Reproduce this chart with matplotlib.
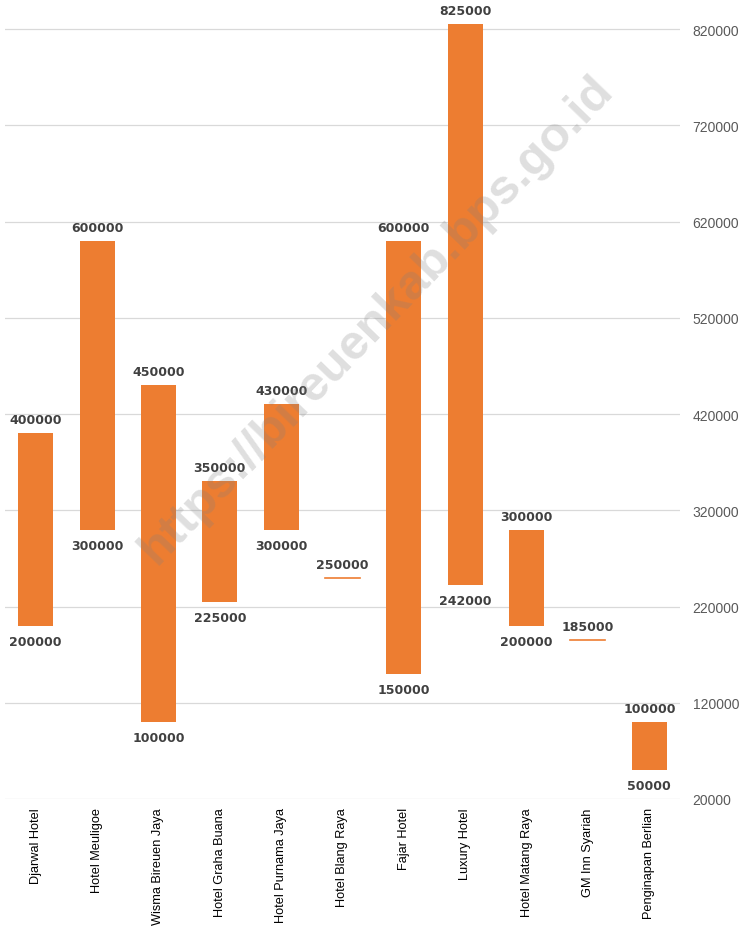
import matplotlib
matplotlib.use("Agg")
import matplotlib.pyplot as plt
import numpy as np

categories = ["Djarwal Hotel", "Hotel Meuligoe", "Wisma Bireuen Jaya", "Hotel Graha Buana",
              "Hotel Purnama Jaya", "Hotel Blang Raya", "Fajar Hotel", "Luxury Hotel",
              "Hotel Matang Raya", "GM Inn Syariah", "Penginapan Berlian"]
min_price = [200000, 300000, 100000, 225000, 300000, 250000, 150000, 242000, 200000, 185000, 50000]
max_price = [400000, 600000, 450000, 350000, 430000, 250000, 600000, 825000, 300000, 185000, 100000]
yticks = [20000, 120000, 220000, 320000, 420000, 520000, 620000, 720000, 820000]

W, H = 745, 928
fig = plt.figure(figsize=(W / 100, H / 100), dpi=100)
ax = fig.add_axes([5 / W, 1 - 800 / H, 675 / W, 800 / H])

x = np.arange(len(categories))
bar_color = "#ED7D31"
for xi, lo, hi in zip(x, min_price, max_price):
    if hi > lo:
        ax.bar(xi, hi - lo, bottom=lo, width=0.57, color=bar_color, zorder=3)
    else:
        ax.plot([xi - 0.285, xi + 0.285], [lo, lo], color=bar_color, lw=1.2, zorder=3)
    ax.annotate(str(hi), (xi, hi), xytext=(0, 5), textcoords="offset points",
                ha="center", va="bottom", fontsize=9, fontweight="bold",
                color="#404040", family="DejaVu Sans", zorder=4)
    if hi > lo:
        ax.annotate(str(lo), (xi, lo), xytext=(0, -6.5), textcoords="offset points",
                    ha="center", va="top", fontsize=9, fontweight="bold",
                    color="#404040", family="DejaVu Sans", zorder=4)

ax.set_xlim(-0.5, len(categories) - 0.5)
ax.set_ylim(20000, 851169)
ax.set_yticks(yticks)
ax.yaxis.tick_right()
ax.tick_params(axis="y", length=0, pad=9, labelsize=10, labelcolor="#595959")
for lab in ax.get_yticklabels():
    lab.set_family("Liberation Sans")
ax.set_xticks(x)
ax.set_xticklabels(categories, rotation=90, fontsize=9.2, family="Liberation Sans", color="#000000")
ax.tick_params(axis="x", length=0, pad=6)
ax.grid(axis="y", color="#d9d9d9", lw=0.9, zorder=0)
for s in ax.spines.values():
    s.set_visible(False)

fig.text(0.505, 0.655, "https://bireuenkab.bps.go.id", fontsize=35.5, fontweight="bold",
         color="#808080", alpha=0.25, rotation=46, ha="center", va="center",
         family="Liberation Sans", zorder=10)

fig.savefig("out.png", dpi=100)
